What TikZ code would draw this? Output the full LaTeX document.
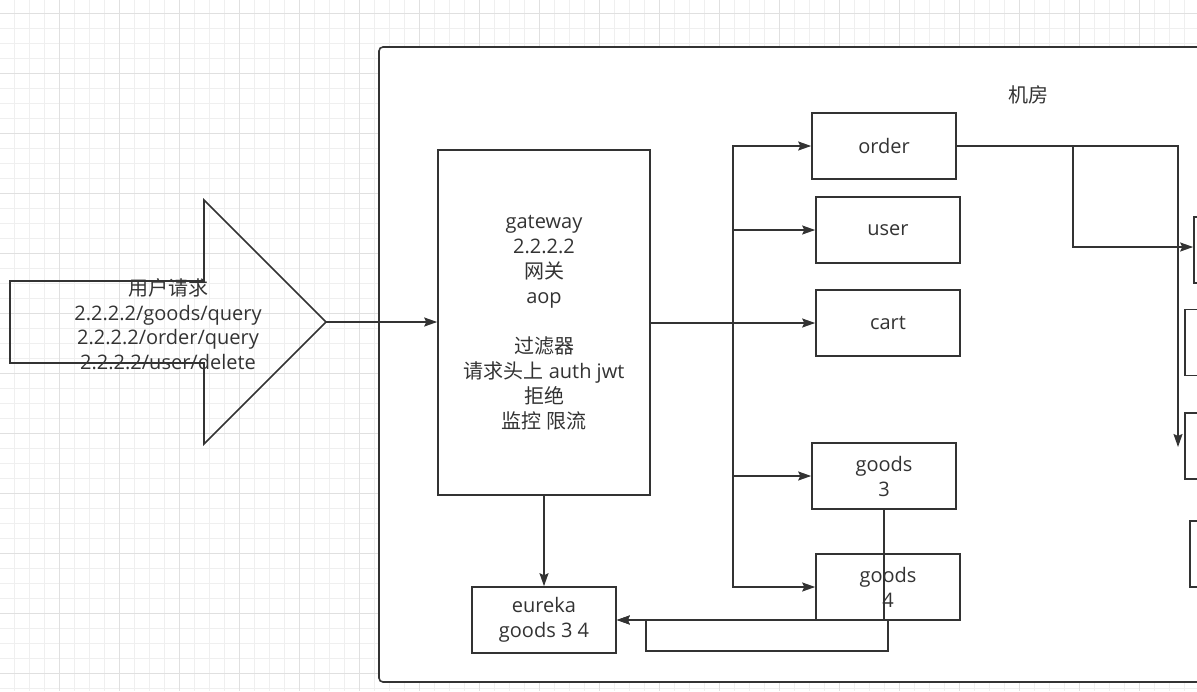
\documentclass[tikz,border=0pt]{standalone}
\usepackage{fontspec}
\setmainfont{Open Sans}
\newfontfamily\cjk{Noto Sans CJK SC}
\usetikzlibrary{arrows.meta}
\definecolor{ink}{HTML}{333333}
\definecolor{gridminor}{HTML}{EFEFEF}
\definecolor{gridmajor}{HTML}{E0E0E0}

\begin{document}
\begin{tikzpicture}[x=1pt,y=-1pt,>={Stealth[length=13pt,width=9pt,inset=2pt]},
  color=ink,line width=1.6pt,
  font=\fontsize{20}{25}\selectfont,
  box/.style={draw,fill=white,minimum width=144pt,minimum height=66pt,
    inner sep=0pt,align=center},
  link/.style={->,line width=1.5pt}]
\useasboundingbox (0,0) rectangle (1197,691);
\clip (0,0) rectangle (1197,691);
% grid
\foreach \x in {14.5,29.5,...,1197} \draw[gridminor,line width=1pt] (\x,0) -- (\x,691);
\foreach \y in {13.3,28.3,...,691} \draw[gridminor,line width=1pt] (0,\y) -- (1197,\y);
\foreach \x in {59.5,119.5,...,1197} \draw[gridmajor,line width=1pt] (\x,0) -- (\x,691);
\foreach \y in {13.3,73.3,...,691} \draw[gridmajor,line width=1pt] (0,\y) -- (1197,\y);

% machine room
\draw[fill=white,rounded corners=4pt] (379,47) rectangle (1220,682);
\node (room) at (1028,95) {\cjk 机房};

% request arrow
\draw (10,281) -- (204,281) -- (204,200) -- (326,322) -- (204,444)
  -- (204,363) -- (10,363) -- cycle;
\coordinate (reqtip) at (326,322);
\node[align=center,font=\fontsize{20}{24.5}\selectfont] (req) at (168,324)
  {{\cjk 用户请求}\\2.2.2.2/goods/query\\2.2.2.2/order/query\\2.2.2.2/user/delete};

\node[box,minimum width=212pt,minimum height=345pt] (gw) at (544,322.5)
  {gateway\\2.2.2.2\\{\cjk 网关}\\aop\\\mbox{}\\{\cjk 过滤器}\\{\cjk 请求头上} auth jwt\\{\cjk 拒绝}\\{\cjk 监控 限流}};
\node[box] (order) at (884,146) {order};
\node[box] (user) at (888,230) {user};
\node[box] (cart) at (888,323) {cart};
\node[box] (g3) at (884,476) {goods\\3};
\node[box] (g4) at (888,587) {goods\\4};
\node[box] (eu) at (544,620) {eureka\\goods 3 4};
\node[box] (r1) at (1266,250) {};
\node[box] (r2) at (1257,342.5) {};
\node[box] (r3) at (1257,446) {};
\node[box] (r4) at (1262,554) {};

\coordinate (bus) at (733,323);
\coordinate (split) at (1073,146);
\coordinate (down) at (1178,447);

\draw[link] (reqtip) -- (gw.west |- reqtip);
\draw[line width=1.5pt] (gw.east |- bus) -- (bus);
\draw[link] (bus) |- (order);
\draw[link] (bus) |- (user);
\draw[link] (bus) -- (cart);
\draw[link] (bus) |- (g3);
\draw[link] (bus) |- (g4);
\draw[link] (gw.south) -- (eu.north);
\draw[link] (order.east) -| (down);
\draw[link] (split) |- (r1.west |- 0,247);
\draw[link] (g3.south) |- (eu.east);
\draw[link] (g4.south) -- ++(0,30) -| (646,620) -- (eu.east);
\end{tikzpicture}
\end{document}
